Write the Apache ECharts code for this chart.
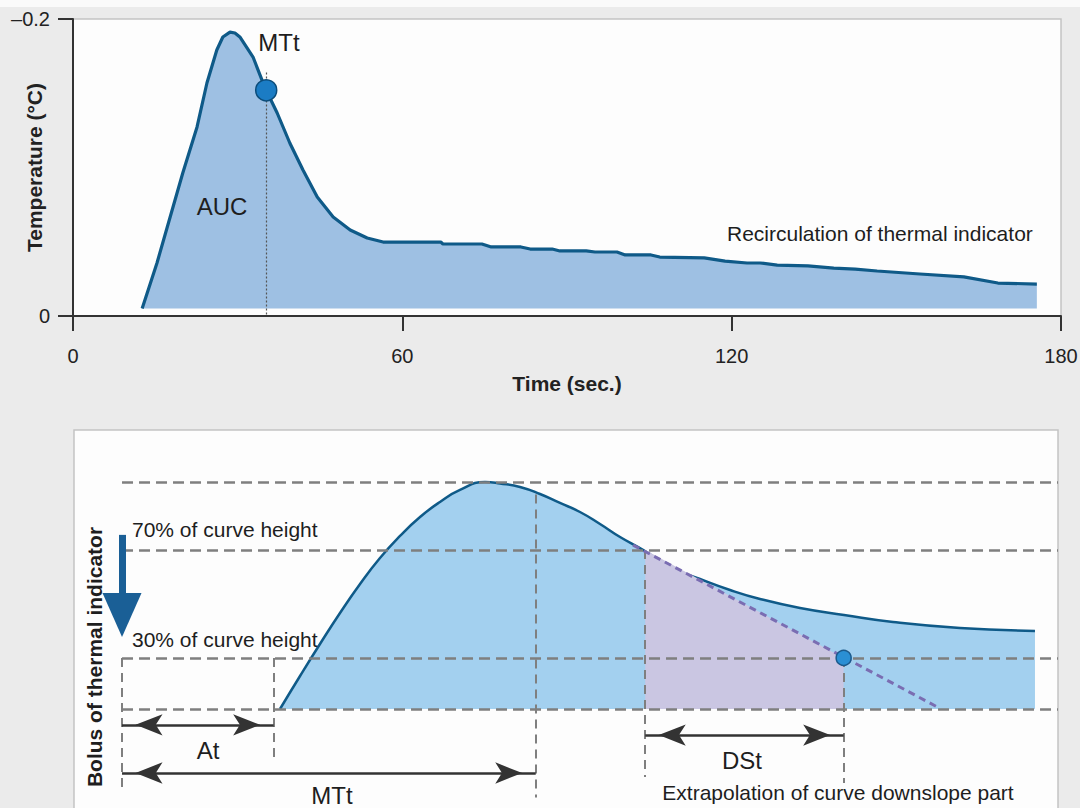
<!DOCTYPE html>
<html><head><meta charset="utf-8">
<script src="https://cdn.jsdelivr.net/npm/echarts@6/dist/echarts.min.js"></script>
<style>html,body{margin:0;padding:0;background:#ebebeb}#c{width:1080px;height:808px}</style>
</head><body><div id="c"></div>
<script>
// ---------- top chart data ----------
const timeTicks = [0, 60, 120, 180];          // seconds
const tempTicks = [-0.2, 0];                  // °C
const tempCurve = [
  [12.6,-0.005],[15.3,-0.0357],[17.7,-0.0667],[20.0,-0.0963],[22.6,-0.1273],[24.4,-0.1569],
  [26.2,-0.1791],[27.3,-0.1879],[28.6,-0.1912],[29.5,-0.1906],[30.4,-0.1879],[32.8,-0.1744],
  [35.0,-0.1535],[37.2,-0.1367],[39.5,-0.1165],[41.9,-0.0983],[44.5,-0.0801],[47.4,-0.0667],
  [50.5,-0.0579],[53.6,-0.0525],[56.5,-0.0498],[67.0,-0.0498],[67.4,-0.0485],[74.5,-0.0485],
  [76.2,-0.0465],[81.6,-0.0465],[83.3,-0.0451],[87.3,-0.0451],[88.7,-0.0438],[93.5,-0.0438],
  [95.1,-0.0431],[99.1,-0.0431],[100.6,-0.0411],[105.3,-0.0411],[106.9,-0.0397],[115.0,-0.0391],
  [118.8,-0.0370],[122.8,-0.0357],[125.2,-0.0357],[128.3,-0.0343],[133.9,-0.0337],[138.6,-0.0323],
  [142.5,-0.0316],[146.5,-0.0303],[154.3,-0.0283],[162.3,-0.0263],[168.5,-0.0222],[175.6,-0.0215]
];
const mttPoint = [35.2, -0.152];
const mttGuideTop = -0.164;
const fillBase = -0.005;

// ---------- bottom schematic data (time units, % of curve height) ----------
const schemCurve = [
  [16.88,0],[19.02,14.54],[21.15,28.63],[23.29,42.29],[25.43,55.07],[27.56,66.52],[29.70,76.21],
  [31.84,84.58],[33.97,91.19],[36.11,96.48],[38.78,100],[40.38,99.34],[42.52,97.8],[44.66,94.71],
  [46.79,90.75],[48.93,86.78],[51.07,81.5],[53.21,75.77],[55.7,70],[58.55,62.56],[61.75,57.27],
  [64.96,52.42],[68.16,48.46],[72.44,44.49],[77.14,41.41],[82.37,38.33],[89.53,35.68],[97.54,34.36]
];
const levels = [100, 70, 22.5, 0];            // dashed horizontal guides
const levelSpan = [0, 100];
const verticalGuides = [                      // [x, yTop, yBottom]
  [0, 22.5, -37], [16.2, 22.5, -22], [44.2, 94.5, -39], [55.9, 70, -30], [77.1, 22.5, -32.6]
];
const downslopeArea = [[55.9,70],[77.1,22.5]];
const extrapolation = [[54.6,72.2],[87.1,0.9]];
const dstPoint = [77.1, 22.5];
const arrowAt  = [0, 16.2, -7.0];             // [from, to, level]
const arrowMTt = [0, 44.2, -28.2];
const arrowDSt = [55.9, 77.1, -11.5];
const bolusArrow = [0, 76.7, 51.1];           // [x, shaft top, head base]

const FONT = '"Liberation Sans", Arial, Helvetica, sans-serif';
const chart = echarts.init(document.getElementById('c'), null, {renderer: 'svg'});

function seg(a, b, style) {
  return [{coord: a, lineStyle: style}, {coord: b}];
}
const dashH = {color: '#7f7f7f', width: 2.5, type: [11, 6]};
const dashV = {color: '#7f7f7f', width: 2, type: [9, 6]};
const guideData = [];
levels.forEach(l => guideData.push(seg([levelSpan[0], l], [levelSpan[1], l], dashH)));
verticalGuides.forEach(v => guideData.push(seg([v[0], v[1]], [v[0], v[2]], dashV)));

function txt(text, x, y, font, opts) {
  return Object.assign({
    type: 'text', x: x, y: y, silent: true, z: 100,
    style: Object.assign({text: text, fill: '#1e1e1e', font: font + ' ' + FONT, align: 'center', verticalAlign: 'middle'}, (opts && opts.style) || {})
  }, (opts && opts.el) || {});
}

const option = {
  backgroundColor: '#ebebeb',
  animation: false,
  textStyle: {fontFamily: FONT},
  grid: [
    {left: 73, top: 19, width: 988, height: 297, show: true, backgroundColor: '#fdfdfd', borderColor: '#c4c4c4', borderWidth: 1.5, containLabel: false, outerBoundsMode: 'none'},
    {left: 74, top: 430, width: 984, height: 380, show: true, backgroundColor: '#fdfdfd', borderColor: '#c4c4c4', borderWidth: 1.5, containLabel: false, outerBoundsMode: 'none'}
  ],
  xAxis: [
    {gridIndex: 0, type: 'value', min: timeTicks[0], max: timeTicks[timeTicks.length-1], interval: timeTicks[1]-timeTicks[0],
     axisLine: {lineStyle: {color: '#333', width: 2}},
     axisTick: {length: 15, lineStyle: {color: '#333', width: 2}},
     axisLabel: {fontSize: 20, color: '#222', margin: 30, fontFamily: FONT},
     splitLine: {show: false},
     name: 'Time (sec.)', nameLocation: 'middle', nameGap: 57, nameMoveOverlap: false,
     nameTextStyle: {fontSize: 21, fontWeight: 'bold', color: '#222', fontFamily: FONT}},
    {gridIndex: 1, type: 'value', min: -5.13, max: 100, show: false}
  ],
  yAxis: [
    {gridIndex: 0, type: 'value', min: tempTicks[0], max: tempTicks[1], interval: tempTicks[1]-tempTicks[0], inverse: true,
     axisLine: {show: true, lineStyle: {color: '#333', width: 2}},
     axisTick: {show: true, length: 15, lineStyle: {color: '#333', width: 2}},
     axisLabel: {fontSize: 20, color: '#222', margin: 23, fontFamily: FONT,
       formatter: v => v === 0 ? '0' : '\u2013' + Math.abs(v)},
     splitLine: {show: false},
     name: 'Temperature (\u00B0C)', nameLocation: 'middle', nameGap: 28, nameRotate: 90, nameMoveOverlap: false,
     nameTextStyle: {fontSize: 21, fontWeight: 'bold', color: '#222', fontFamily: FONT}},
    {gridIndex: 1, type: 'value', min: -44.5, max: 122.9, show: false}
  ],
  series: [
    {type: 'line', xAxisIndex: 0, yAxisIndex: 0, data: tempCurve, showSymbol: false, z: 2,
     lineStyle: {color: '#0f5a88', width: 3.2},
     areaStyle: {color: '#9ec0e3', opacity: 1, origin: fillBase},
     markLine: {silent: true, symbol: 'none', z: 3, label: {show: false},
       data: [seg([mttPoint[0], mttGuideTop], [mttPoint[0], 0], {color: '#555', width: 1.2, type: [2, 2]})]}},
    {type: 'scatter', xAxisIndex: 0, yAxisIndex: 0, data: [mttPoint], symbolSize: 21, z: 6, silent: true,
     itemStyle: {color: '#1b7cc4', borderColor: '#0b4c7a', borderWidth: 1.5, opacity: 1}},

    {type: 'line', xAxisIndex: 1, yAxisIndex: 1, data: schemCurve, smooth: 0.5, showSymbol: false, z: 2,
     lineStyle: {color: '#0f5a88', width: 2.5},
     areaStyle: {color: '#a3d0ef', opacity: 1}},
    {type: 'line', xAxisIndex: 1, yAxisIndex: 1, data: downslopeArea, showSymbol: false, z: 3,
     lineStyle: {width: 0}, areaStyle: {color: '#cac6e2', opacity: 1}},
    {type: 'line', xAxisIndex: 1, yAxisIndex: 1, data: [], z: 4,
     markLine: {silent: true, symbol: 'none', z: 4, label: {show: false}, data: guideData}},
    {type: 'line', xAxisIndex: 1, yAxisIndex: 1, data: extrapolation, showSymbol: false, z: 5,
     lineStyle: {color: '#7a6db2', width: 3, type: [7, 5]}},
    {type: 'scatter', xAxisIndex: 1, yAxisIndex: 1, data: [dstPoint], symbolSize: 15, z: 6, silent: true,
     itemStyle: {color: '#2a8fd4', borderColor: '#1b5a8c', borderWidth: 1.5, opacity: 1}},
    {type: 'line', xAxisIndex: 1, yAxisIndex: 1, data: [], z: 6,
     markLine: {silent: true, z: 6, label: {show: false},
       symbol: ['arrow', 'arrow'], symbolSize: [16, 27], symbolOffset: [[0, 13.5], [0, 13.5]],
       lineStyle: {color: '#333', width: 2.5, type: 'solid'},
       itemStyle: {color: '#333'},
       data: [arrowAt, arrowMTt, arrowDSt].map(a => [{coord: [a[0], a[2]]}, {coord: [a[1], a[2]]}])}},
    {type: 'line', xAxisIndex: 1, yAxisIndex: 1, data: [], z: 6,
     markLine: {silent: true, z: 6, label: {show: false},
       symbol: ['none', 'triangle'], symbolSize: [39, 44], symbolOffset: [[0, 0], [0, -22]],
       lineStyle: {color: '#1a5f96', width: 7, type: 'solid'},
       itemStyle: {color: '#1a5f96'},
       data: [[{coord: [bolusArrow[0], bolusArrow[1]]}, {coord: [bolusArrow[0], bolusArrow[2]]}]]}}
  ],
  graphic: [
    {type: 'rect', shape: {x: 0, y: 0, width: 1080, height: 7}, style: {fill: '#fafafa'}, silent: true, z: 0},
    txt('MTt', 279, 42, '24px'),
    txt('AUC', 222, 206, '24px'),
    txt('Recirculation of thermal indicator', 727, 233, '21px', {style: {align: 'left'}}),
    txt('70% of curve height', 132, 529, '21px', {style: {align: 'left'}}),
    txt('30% of curve height', 132, 639, '21px', {style: {align: 'left'}}),
    txt('Bolus of thermal indicator', 94, 657, 'bold 21px', {el: {rotation: Math.PI / 2}}),
    txt('At', 208, 750, '24px'),
    txt('MTt', 332, 795, '24px'),
    txt('DSt', 742, 760, '24px'),
    txt('Extrapolation of curve downslope part', 838, 792, '21px')
  ]
};
chart.setOption(option);
</script>
</body></html>
